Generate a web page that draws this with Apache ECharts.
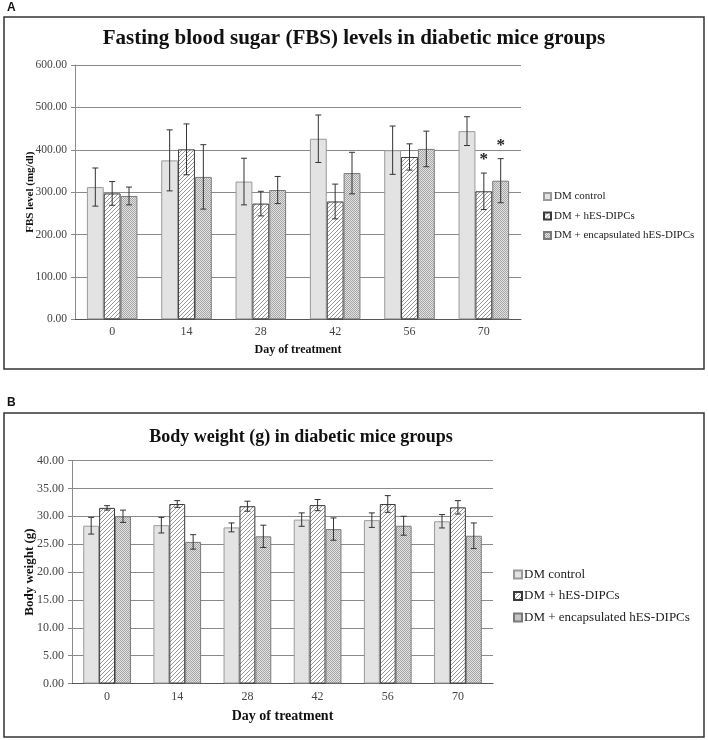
<!DOCTYPE html>
<html>
<head>
<meta charset="utf-8">
<script src="https://cdn.jsdelivr.net/npm/echarts@6/dist/echarts.min.js"></script>
<style>
html,body{margin:0;padding:0;background:#fff;}
#chart{width:708px;height:740px;}
</style>
</head>
<body>
<div id="chart"></div>
<script>
// ---------- data ----------
var days = ['0', '14', '28', '42', '56', '70'];
var seriesNames = ['DM control', 'DM + hES-DIPCs', 'DM + encapsulated hES-DIPCs'];

var fbsControl    = [312, 375, 325, 426, 399, 444];
var fbsControlErr = [45, 72, 55, 56, 57, 34];
var fbsHES        = [297, 401, 273, 278, 383, 302];
var fbsHESErr     = [28, 60, 29, 41, 31, 43];
var fbsEnc        = [291, 336, 305, 345, 402, 327];
var fbsEncErr     = [21, 76, 32, 49, 42, 52];
var fbsSigControl = [0, 0, 0, 0, 0, 0];
var fbsSigHES     = [0, 0, 0, 0, 0, 1];
var fbsSigEnc     = [0, 0, 0, 0, 0, 1];

var bwControl    = [28.3, 28.4, 28.0, 29.4, 29.3, 29.1];
var bwControlErr = [1.5, 1.4, 0.8, 1.2, 1.3, 1.2];
var bwHES        = [31.5, 32.2, 31.8, 32.0, 32.2, 31.6];
var bwHESErr     = [0.4, 0.6, 0.9, 1.0, 1.5, 1.2];
var bwEnc        = [30.0, 25.4, 26.4, 27.7, 28.3, 26.5];
var bwEncErr     = [1.1, 1.3, 2.0, 2.0, 1.7, 2.3];

var fbsTitle = 'Fasting blood sugar (FBS) levels in diabetic mice groups';
var bwTitle = 'Body weight (g) in diabetic mice groups';

// ---------- styles ----------
var SERIF = '"Liberation Serif", "Times New Roman", serif';
var CAT_GAP = 0.32;

function makeHatch() {
  var c = document.createElement('canvas');
  c.width = 4; c.height = 4;
  var g = c.getContext('2d');
  g.fillStyle = '#ffffff'; g.fillRect(0, 0, 4, 4);
  g.strokeStyle = '#8a8a8a'; g.lineWidth = 0.9;
  g.beginPath();
  g.moveTo(-1, 5); g.lineTo(5, -1);
  g.moveTo(-1, 1); g.lineTo(1, -1);
  g.moveTo(3, 5); g.lineTo(5, 3);
  g.stroke();
  return c;
}
function makeStipple() {
  var c = document.createElement('canvas');
  c.width = 2; c.height = 2;
  var g = c.getContext('2d');
  g.fillStyle = '#e2e2e2'; g.fillRect(0, 0, 2, 2);
  g.fillStyle = '#a6a6a6';
  g.fillRect(0, 0, 1, 1); g.fillRect(1, 1, 1, 1);
  return c;
}
var styles = [
  { color: '#e3e3e3', borderColor: '#9a9a9a', borderWidth: 1 },
  { color: { image: makeHatch(), repeat: 'repeat' }, borderColor: '#3a3a3a', borderWidth: 1 },
  { color: { image: makeStipple(), repeat: 'repeat' }, borderColor: '#7a7a7a', borderWidth: 1 }
];

function errRender(idx, sig, sigGap) {
  return function (params, api) {
    var x = api.value(0), v = api.value(1), e = api.value(2);
    var band = api.size([1, 0])[0];
    var bw = band * (1 - CAT_GAP) / 3;
    var c = api.coord([x, v]);
    var cx = c[0] + (idx - 1) * bw;
    var yt = api.coord([x, v + e])[1];
    var yb = api.coord([x, v - e])[1];
    var cap = 3;
    var ls = { stroke: '#333', lineWidth: 1 };
    var children = [
      { type: 'line', shape: { x1: cx, y1: yt, x2: cx, y2: yb }, style: ls },
      { type: 'line', shape: { x1: cx - cap, y1: yt, x2: cx + cap, y2: yt }, style: ls },
      { type: 'line', shape: { x1: cx - cap, y1: yb, x2: cx + cap, y2: yb }, style: ls }
    ];
    if (sig && sig[params.dataIndex]) {
      children.push({
        type: 'text',
        style: { text: '*', x: cx, y: yt - sigGap, align: 'center', verticalAlign: 'middle',
                 font: 'bold 17px ' + SERIF, fill: '#222' }
      });
    }
    return { type: 'group', children: children };
  };
}

function buildSeries(gridIdx, vals, errs, sigs) {
  var out = [];
  for (var i = 0; i < 3; i++) {
    out.push({
      name: seriesNames[i], type: 'bar', xAxisIndex: gridIdx, yAxisIndex: gridIdx,
      data: vals[i], barGap: '0%', barCategoryGap: (CAT_GAP * 100) + '%',
      itemStyle: styles[i], z: 2, silent: true
    });
  }
  for (var j = 0; j < 3; j++) {
    var d = vals[j].map(function (v, k) { return [k, v, errs[j][k]]; });
    out.push({
      type: 'custom', xAxisIndex: gridIdx, yAxisIndex: gridIdx, z: 5, silent: true,
      renderItem: errRender(j, sigs ? sigs[j] : null, 13), data: d
    });
  }
  return out;
}

var series = [].concat(
  buildSeries(0, [fbsControl, fbsHES, fbsEnc], [fbsControlErr, fbsHESErr, fbsEncErr],
              [fbsSigControl, fbsSigHES, fbsSigEnc]),
  buildSeries(1, [bwControl, bwHES, bwEnc], [bwControlErr, bwHESErr, bwEncErr], null)
);

function yAxis(gridIdx, max, interval, name, nameSize, nameGap, labelSize) {
  return {
    type: 'value', gridIndex: gridIdx, min: 0, max: max, interval: interval,
    name: name, nameLocation: 'middle', nameGap: nameGap, nameRotate: 90,
    nameMoveOverlap: false,
    nameTextStyle: { fontFamily: SERIF, fontWeight: 'bold', fontSize: nameSize, color: '#111' },
    axisLine: { show: true, lineStyle: { color: '#8a8a8a', width: 1 } },
    axisTick: { show: true, length: 4, lineStyle: { color: '#8a8a8a' } },
    axisLabel: { fontFamily: SERIF, fontSize: labelSize, color: '#444', margin: 8,
                 formatter: function (v) { return v.toFixed(2); } },
    splitLine: { show: true, lineStyle: { color: '#8a8a8a', width: 1 } }
  };
}
function xAxis(gridIdx, nameSize, nameGap) {
  return {
    type: 'category', gridIndex: gridIdx, data: days,
    name: 'Day of treatment', nameLocation: 'middle', nameGap: nameGap,
    nameMoveOverlap: false,
    nameTextStyle: { fontFamily: SERIF, fontWeight: 'bold', fontSize: nameSize, color: '#111' },
    axisLine: { show: true, lineStyle: { color: '#555', width: 1 } },
    axisTick: { show: false },
    axisLabel: { fontFamily: SERIF, fontSize: 12, color: '#444', margin: 7 }
  };
}

var option = {
  backgroundColor: '#ffffff',
  animation: false,
  grid: [
    { left: 75, top: 65, width: 446, height: 254.3 },
    { left: 72, top: 460.5, width: 421, height: 223 }
  ],
  xAxis: [xAxis(0, 12, 25), xAxis(1, 14, 26)],
  yAxis: [
    yAxis(0, 600, 100, 'FBS level (mg/dl)', 11, 39, 11.5),
    yAxis(1, 40, 5, 'Body weight (g)', 13, 36, 12)
  ],
  legend: [
    { orient: 'vertical', left: 538, top: 186, itemWidth: 7, itemHeight: 7, itemGap: 8.5,
      icon: 'rect', data: seriesNames, selectedMode: false,
      textStyle: { fontFamily: SERIF, fontSize: 11, color: '#222', padding: [0, 0, 0, -2] } },
    { orient: 'vertical', left: 508, top: 563, itemWidth: 8, itemHeight: 8, itemGap: 8.5,
      icon: 'rect', data: seriesNames, selectedMode: false,
      textStyle: { fontFamily: SERIF, fontSize: 13, color: '#222', padding: [0, 0, 0, -3] } }
  ],
  graphic: [
    { type: 'rect', shape: { x: 4, y: 17, width: 700, height: 352 },
      style: { fill: 'none', stroke: '#333', lineWidth: 1.5 }, silent: true },
    { type: 'rect', shape: { x: 4, y: 413, width: 700, height: 324 },
      style: { fill: 'none', stroke: '#333', lineWidth: 1.5 }, silent: true },
    { type: 'text', style: { text: 'A', x: 7, y: 8, verticalAlign: 'middle',
      font: 'bold 12px "Liberation Sans", Arial, sans-serif', fill: '#111' } },
    { type: 'text', style: { text: 'B', x: 7, y: 403, verticalAlign: 'middle',
      font: 'bold 12px "Liberation Sans", Arial, sans-serif', fill: '#111' } },
    { type: 'text', style: { text: fbsTitle, x: 354, y: 39, align: 'center', verticalAlign: 'middle',
      font: 'bold 21px ' + SERIF, fill: '#111' } },
    { type: 'text', style: { text: bwTitle, x: 301, y: 437, align: 'center', verticalAlign: 'middle',
      font: 'bold 18px ' + SERIF, fill: '#111' } }
  ],
  series: series
};

var chart = echarts.init(document.getElementById('chart'), null, { renderer: 'canvas' });
chart.setOption(option);
</script>
</body>
</html>
